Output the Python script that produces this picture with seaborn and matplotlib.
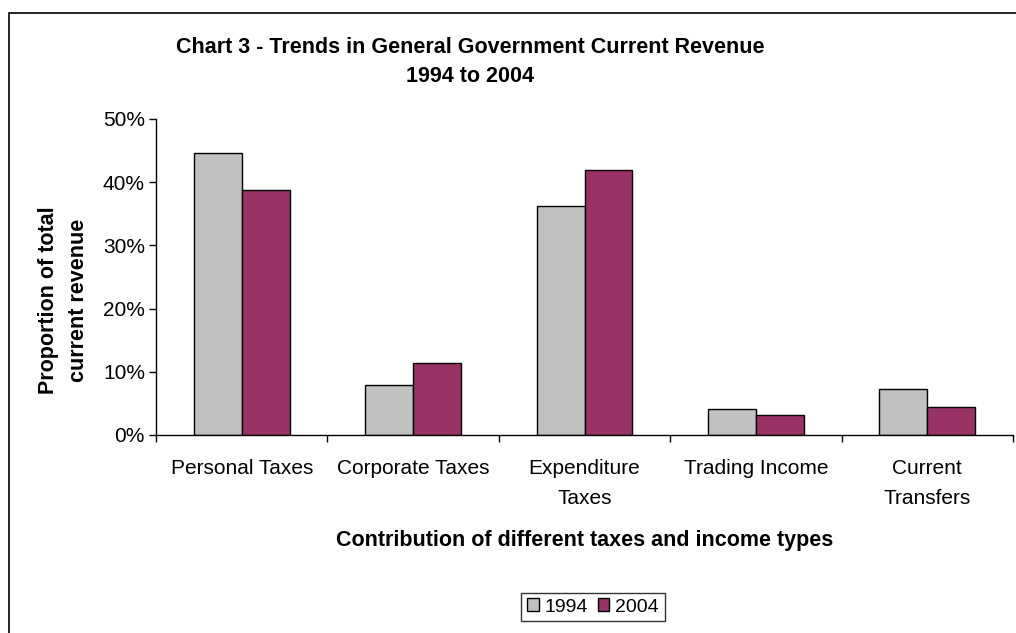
import pandas as pd
import matplotlib.pyplot as plt
import seaborn as sns
from matplotlib.patches import Rectangle
from matplotlib.ticker import PercentFormatter, FixedLocator

# Data (proportion of total current revenue, %)
categories = ['Personal Taxes', 'Corporate Taxes', 'Expenditure\nTaxes',
              'Trading Income', 'Current\nTransfers']
years = ['1994', '2004']
values_1994 = [44.6, 7.9, 36.2, 4.1, 7.3]
values_2004 = [38.8, 11.4, 42.0, 3.2, 4.4]
colors = ['#C0C0C0', '#993366']

df = pd.DataFrame({
    'category': categories * 2,
    'year': [years[0]] * len(categories) + [years[1]] * len(categories),
    'value': values_1994 + values_2004,
})

sns.set_style("white")
plt.rcParams['font.family'] = ['Liberation Sans', 'DejaVu Sans']
plt.rcParams['text.color'] = 'black'
plt.rcParams['axes.labelcolor'] = 'black'
plt.rcParams['xtick.color'] = 'black'
plt.rcParams['ytick.color'] = 'black'

fig = plt.figure(figsize=(10.16, 6.33), dpi=100)
ax = fig.add_axes([156 / 1016, 1 - 435 / 633, (1013 - 156) / 1016, (435 - 119) / 633])

sns.barplot(data=df, x='category', y='value', hue='year', palette=colors,
            saturation=1, width=0.56, edgecolor='black', linewidth=1, ax=ax)

# Axes styling
ax.set_ylim(0, 50)
ax.set_xlim(-0.5, len(categories) - 0.5)
ax.set_yticks([0, 10, 20, 30, 40, 50])
ax.yaxis.set_major_formatter(PercentFormatter(decimals=0))
ax.set_xticks(range(len(categories)))
ax.set_xticklabels(categories, linespacing=1.75)
ax.xaxis.set_minor_locator(FixedLocator([i - 0.5 for i in range(len(categories) + 1)]))
ax.tick_params(axis='x', which='major', length=0, pad=17, labelsize=15)
ax.tick_params(axis='x', which='minor', length=5, width=1, direction='out')
ax.tick_params(axis='y', length=5, width=1, direction='out', labelsize=15, pad=3)
ax.xaxis.set_tick_params(which='both', bottom=True)
ax.yaxis.set_tick_params(left=True)
for side in ['top', 'right']:
    ax.spines[side].set_visible(False)
for side in ['left', 'bottom']:
    ax.spines[side].set_color('black')
    ax.spines[side].set_linewidth(1)

ax.set_xlabel('Contribution of different taxes and income types',
              fontsize=15.5, fontweight='bold', labelpad=16)
ax.set_ylabel('Proportion of total\ncurrent revenue', fontsize=15.5,
              fontweight='bold', linespacing=1.6)
ax.yaxis.set_label_coords(-0.0777, 0.427)

fig.suptitle('Chart 3 - Trends in General Government Current Revenue\n1994 to 2004',
             x=0.5 * (175 + 765) / 1016, y=1 - 37 / 633, fontsize=15.5,
             fontweight='bold', linespacing=1.5, va='top')

leg = ax.legend(loc='center', bbox_to_anchor=(593 / 1016, 1 - 607 / 633),
                bbox_transform=fig.transFigure, ncol=2, fontsize=14,
                frameon=True, fancybox=False, handlelength=0.6, handleheight=0.6,
                handletextpad=0.3, columnspacing=0.5, borderpad=0.3)
leg.get_frame().set_edgecolor('black')
leg.get_frame().set_linewidth(1)

# Outer chart border (runs off the right and bottom edge)
fig.patches.append(Rectangle((9 / 1016, -0.1), 1.2, 1.1 - 13 / 633, fill=False,
                             edgecolor='black', linewidth=1.2,
                             transform=fig.transFigure, figure=fig))

fig.savefig('out.png', dpi=100)
